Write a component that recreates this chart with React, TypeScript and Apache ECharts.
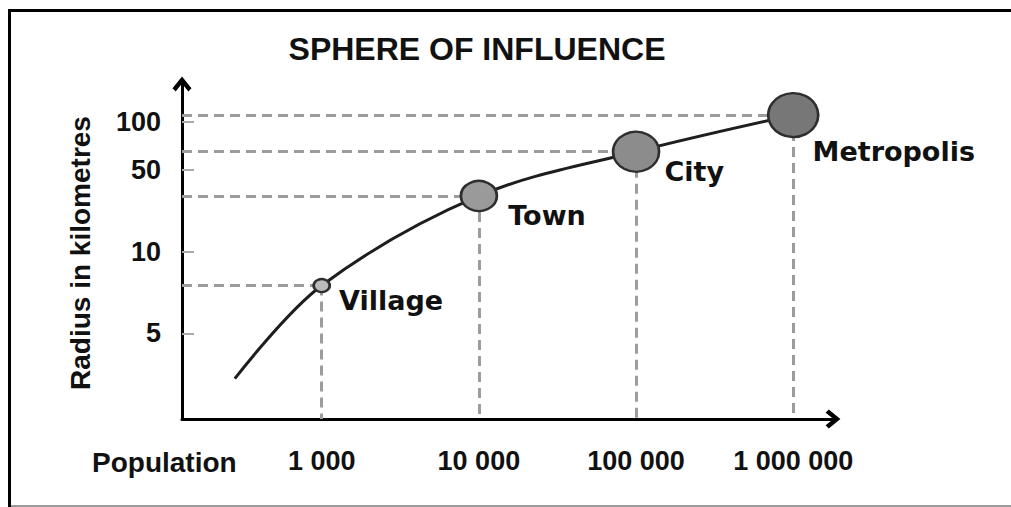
import React, { useEffect, useRef } from 'react';
import * as echarts from 'echarts';

// ---- data ----
const PLACES = ['Village', 'Town', 'City', 'Metropolis'];
const POPULATION = [1000, 10000, 100000, 1000000];
const RADIUS_KM = [7.5, 30, 65, 110];
const CURVE_START_POPULATION = 280;
const CURVE_START_RADIUS_KM = 3.4;
const X_TICKS = [1000, 10000, 100000, 1000000];
const Y_TICKS = [5, 10, 50, 100];

// ---- schematic radius axis: where each labelled radius sits along the drawn axis ----
const Y_TICK_AXIS_POS = [85.7, 167.3, 249, 297.3];
const X_MIN = 129.2;
const X_MAX = 1.79e6;
const Y_MAX = 335;

function radiusToAxis(r: number): number {
  const lr = Math.log10(r);
  const L = Y_TICKS.map((v) => Math.log10(v));
  let i = 0;
  if (lr <= L[0]) i = 0;
  else if (lr >= L[L.length - 1]) i = L.length - 2;
  else {
    while (lr > L[i + 1]) i++;
  }
  const t = (lr - L[i]) / (L[i + 1] - L[i]);
  return Y_TICK_AXIS_POS[i] + t * (Y_TICK_AXIS_POS[i + 1] - Y_TICK_AXIS_POS[i]);
}

// ---- styles ----
const SYMBOL_SIZES: number[][] = [[16, 13], [36, 30], [46, 40], [50, 44]];
const SYMBOL_FILLS = ['#bbbbbb', '#9a9a9a', '#8c8c8c', '#777777'];
const LABEL_OFFSETS: number[][] = [[8, 15], [10, 20], [4, 20], [-7, 36]];
const CHEVRON = 'path://M9,0 L18,11 L15,14 L9,6.5 L3,14 L0,11 Z';
const AXIS_FONT = '"Liberation Sans", Arial, sans-serif';
const LABEL_FONT = '"DejaVu Sans", Verdana, sans-serif';

function groupThousands(v: number): string {
  return String(Math.round(v)).replace(/\B(?=(\d{3})+(?!\d))/g, ' ');
}

export default function App() {
  const ref = useRef<HTMLDivElement>(null);

  useEffect(() => {
    if (!ref.current) return;
    const chart = echarts.init(ref.current, null, { renderer: 'svg' });

    const lineData: any[] = [
      {
        name: '',
        value: [CURVE_START_POPULATION, radiusToAxis(CURVE_START_RADIUS_KM)],
        symbol: 'none',
        label: { show: false },
      },
      ...PLACES.map((p, i) => ({
        name: p,
        value: [POPULATION[i], radiusToAxis(RADIUS_KM[i])],
        symbol: 'circle',
        symbolSize: SYMBOL_SIZES[i],
        itemStyle: { color: SYMBOL_FILLS[i], borderColor: '#2e2e2e', borderWidth: 2.5 },
        label: {
          show: true,
          position: 'right',
          distance: 0,
          offset: LABEL_OFFSETS[i],
        },
      })),
    ];

    const guideLines: any[] = [];
    PLACES.forEach((_, i) => {
      const y = radiusToAxis(RADIUS_KM[i]);
      guideLines.push([{ coord: [X_MIN, y] }, { coord: [POPULATION[i], y] }]);
      guideLines.push([{ coord: [POPULATION[i], y] }, { coord: [POPULATION[i], 0] }]);
    });

    const tickPositions = Y_TICKS.map(radiusToAxis);

    chart.setOption({
      animation: false,
      backgroundColor: '#ffffff',
      grid: { left: 182, right: 178, top: 84, bottom: 88, containLabel: false, outerBoundsMode: 'none' },
      xAxis: {
        type: 'log',
        min: X_MIN,
        max: X_MAX,
        logBase: 10,
        splitLine: { show: false },
        axisTick: { show: false },
        axisLine: {
          show: true,
          onZero: false,
          lineStyle: { color: '#000', width: 3 },
          symbol: ['none', CHEVRON],
          symbolSize: [19, 17],
        },
        axisLabel: {
          customValues: X_TICKS,
          formatter: (v: number) => {
            const lg = Math.log10(v);
            return Math.abs(lg - Math.round(lg)) < 1e-6 && v >= 1000 ? groupThousands(v) : '';
          },
          margin: 28,
          color: '#111',
          fontFamily: AXIS_FONT,
          fontWeight: 'bold',
          fontSize: 27,
        },
      },
      yAxis: {
        type: 'value',
        min: 0,
        max: Y_MAX,
        splitLine: { show: false },
        axisLine: {
          show: true,
          onZero: false,
          lineStyle: { color: '#000', width: 3 },
          symbol: ['none', CHEVRON],
          symbolSize: [19, 17],
        },
        axisTick: {
          show: true,
          inside: true,
          length: 12,
          customValues: tickPositions,
          lineStyle: { color: '#aaaaaa', width: 2 },
        },
        axisLabel: {
          customValues: tickPositions,
          formatter: (v: number) => {
            let best = 0;
            tickPositions.forEach((p, i) => {
              if (Math.abs(p - v) < Math.abs(tickPositions[best] - v)) best = i;
            });
            return String(Y_TICKS[best]);
          },
          margin: 21,
          color: '#111',
          fontFamily: AXIS_FONT,
          fontWeight: 'bold',
          fontSize: 27,
        },
      },
      series: [
        {
          type: 'line',
          data: [],
          z: 1,
          silent: true,
          markLine: {
            silent: true,
            z: 1,
            symbol: 'none',
            label: { show: false },
            lineStyle: { color: '#9c9c9c', width: 3, type: [10, 6] },
            data: guideLines,
          },
        },
        {
          type: 'line',
          z: 10,
          smooth: 0.35,
          data: lineData,
          lineStyle: { color: '#1e1e1e', width: 3 },
          label: {
            formatter: '{b}',
            color: '#111',
            fontFamily: LABEL_FONT,
            fontWeight: 'bold',
            fontSize: 27,
          },
        },
      ],
      graphic: [
        { type: 'line', shape: { x1: 8, y1: 10.5, x2: 1011, y2: 10.5 }, style: { stroke: '#000', lineWidth: 3 } },
        { type: 'line', shape: { x1: 9.5, y1: 9, x2: 9.5, y2: 507 }, style: { stroke: '#000', lineWidth: 3 } },
        { type: 'line', shape: { x1: 11, y1: 506, x2: 1011, y2: 506 }, style: { stroke: '#9a9a9a', lineWidth: 2 } },
        {
          type: 'text',
          x: 477,
          y: 49,
          style: {
            text: 'SPHERE OF INFLUENCE',
            align: 'center',
            verticalAlign: 'middle',
            fill: '#111',
            font: 'bold 32px "Liberation Sans", Arial, sans-serif',
          },
        },
        {
          type: 'text',
          x: 80,
          y: 253,
          rotation: Math.PI / 2,
          style: {
            text: 'Radius in kilometres',
            align: 'center',
            verticalAlign: 'middle',
            fill: '#111',
            font: 'bold 28px "Liberation Sans", Arial, sans-serif',
          },
        },
        {
          type: 'text',
          x: 92,
          y: 462,
          style: {
            text: 'Population',
            align: 'left',
            verticalAlign: 'middle',
            fill: '#111',
            font: 'bold 28px "Liberation Sans", Arial, sans-serif',
          },
        },
      ],
    });

    return () => chart.dispose();
  }, []);

  return (
    <div
      ref={ref}
      style={{ position: 'fixed', left: 0, top: 0, width: 1011, height: 507, background: '#fff' }}
    />
  );
}
